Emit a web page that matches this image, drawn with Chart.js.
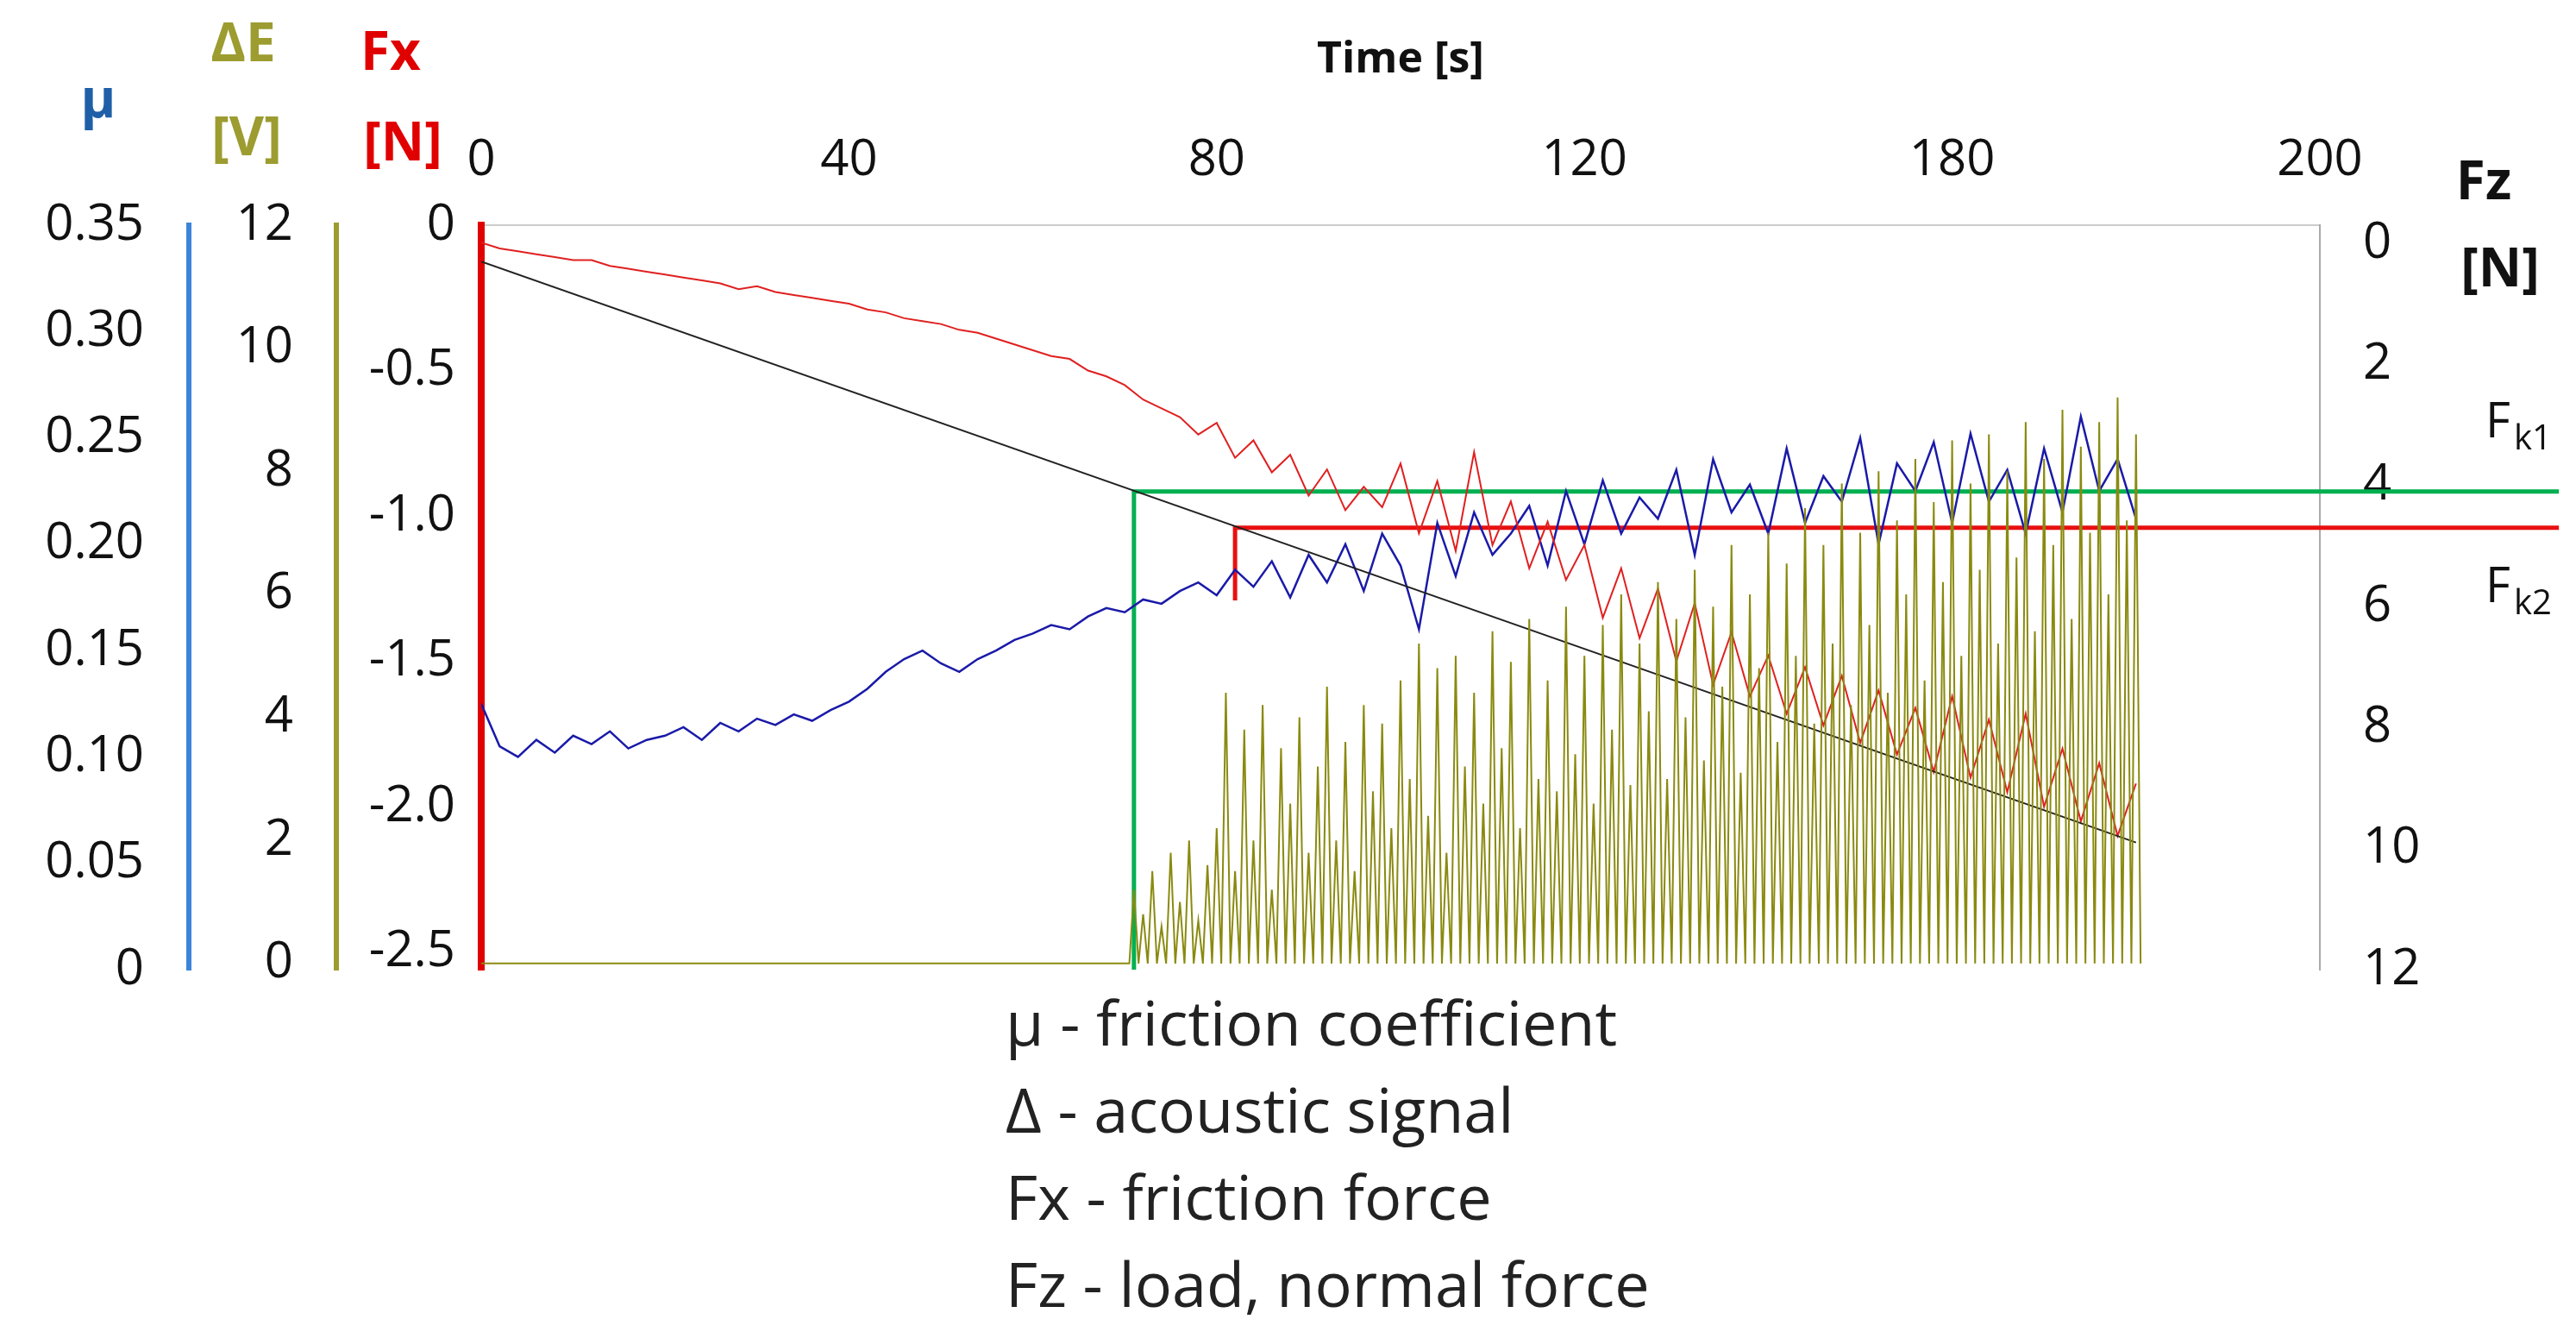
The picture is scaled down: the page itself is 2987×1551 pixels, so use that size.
<!DOCTYPE html>
<html>
<head>
<meta charset="utf-8">
<script src="https://cdn.jsdelivr.net/npm/chart.js@4/dist/chart.umd.min.js"></script>
<style>
  html, body { margin: 0; padding: 0; background: #fff; }
  canvas { display: block; }
</style>
</head>
<body>
<canvas id="graf" width="2987" height="1551"></canvas>
<script>
// time axis (top), labels as printed in the figure
const timeTicks = [0, 40, 80, 120, 160, 200];
const timeTickLabels = ["0", "40", "80", "120", "180", "200"];
const muTicks = [0, 0.05, 0.10, 0.15, 0.20, 0.25, 0.30, 0.35];
const aeTicks = [0, 2, 4, 6, 8, 10, 12];
const fxTicks = [0, -0.5, -1.0, -1.5, -2.0, -2.5];
const fzTicks = [0, 2, 4, 6, 8, 10, 12];

// sampled every 2 s, t = 0 .. 180
const sampleTimes = [];
for (let t = 0; t <= 180; t += 2) sampleTimes.push(t);

const fxValues = [
  -0.06,-0.08,-0.09,-0.10,-0.11,-0.12,-0.12,-0.14,-0.15,-0.16,
  -0.17,-0.18,-0.19,-0.20,-0.22,-0.21,-0.23,-0.24,-0.25,-0.26,
  -0.27,-0.29,-0.30,-0.32,-0.33,-0.34,-0.36,-0.37,-0.39,-0.41,
  -0.43,-0.45,-0.46,-0.50,-0.52,-0.55,-0.60,-0.63,-0.66,-0.72,
  -0.68,-0.80,-0.74,-0.85,-0.79,-0.93,-0.84,-0.98,-0.90,-0.97,
  -0.82,-1.06,-0.88,-1.12,-0.78,-1.10,-0.95,-1.18,-1.02,-1.22,
  -1.10,-1.35,-1.18,-1.42,-1.25,-1.50,-1.30,-1.58,-1.40,-1.62,
  -1.48,-1.68,-1.52,-1.72,-1.55,-1.78,-1.60,-1.82,-1.66,-1.88,
  -1.62,-1.90,-1.70,-1.95,-1.68,-2.00,-1.80,-2.05,-1.85,-2.10,
  -1.92
];

const muValues = [
  0.125,0.105,0.100,0.108,0.102,0.110,0.106,0.112,0.104,0.108,
  0.110,0.114,0.108,0.116,0.112,0.118,0.115,0.120,0.117,0.122,
  0.126,0.132,0.140,0.146,0.150,0.144,0.140,0.146,0.150,0.155,
  0.158,0.162,0.160,0.166,0.170,0.168,0.174,0.172,0.178,0.182,
  0.176,0.188,0.180,0.192,0.175,0.195,0.182,0.200,0.178,0.205,
  0.190,0.160,0.210,0.185,0.215,0.195,0.205,0.218,0.190,0.225,
  0.200,0.230,0.205,0.222,0.212,0.235,0.195,0.240,0.215,0.228,
  0.205,0.245,0.210,0.232,0.220,0.250,0.200,0.238,0.225,0.248,
  0.210,0.252,0.220,0.235,0.205,0.245,0.215,0.260,0.225,0.240,
  0.212
];

// acoustic burst peaks [V], one per second from t = 71 s to 180 s
const aeStart = 71;
const aePeaks = [
  1.2,0.8,1.5,0.6,1.8,1.0,2.0,0.7,1.6,2.2,
  4.4,1.5,3.8,2.0,4.2,1.2,3.5,2.6,4.0,1.8,
  3.2,4.5,2.0,3.6,1.5,4.2,2.8,3.9,2.2,4.6,
  3.0,5.2,2.4,4.8,1.8,5.0,3.2,4.4,2.6,5.4,
  3.5,4.9,2.2,5.6,3.0,4.6,2.8,5.8,3.4,5.0,
  2.6,5.5,3.8,6.0,2.9,5.2,4.1,6.2,3.0,5.6,
  4.0,6.4,3.3,5.8,4.5,6.8,3.1,6.0,4.8,7.0,
  3.6,6.5,5.0,7.4,3.9,6.8,5.2,7.8,4.2,7.0,
  5.5,8.0,4.4,7.2,6.0,8.2,4.6,7.5,6.2,8.5,
  5.0,7.8,6.4,8.6,5.2,8.0,6.6,8.8,5.4,8.2,
  6.8,9.0,5.6,8.4,7.0,8.8,6.0,9.2,7.2,8.6
];

// load ramp Fz [N]
const fzTimes = [0, 180];
const fzValues = [0.3, 9.9];

// critical load markers
const fk1Line = [[71, 12], [71, 4.1], [226, 4.1]];
const fk2Line = [[82, 5.9], [82, 4.7], [226, 4.7]];

const legendLines = ["μ - friction coefficient", "Δ - acoustic signal", "Fx - friction force", "Fz - load, normal force"];

const aeData = [{ x: 0, y: 0 }, { x: aeStart - 0.5, y: 0 }];
aePeaks.forEach(function(p, i) {
  aeData.push({ x: aeStart + i, y: p });
  aeData.push({ x: aeStart + i + 0.5, y: 0 });
});

const FONT = "'Open Sans', 'Liberation Sans', sans-serif";

function fixTicks(list) {
  return function(axis) { axis.ticks = list.map(function(v) { return { value: v }; }); };
}
function fixWidth(w) { return function(axis) { axis.width = w; }; }

const textPlugin = {
  id: "texty",
  afterDraw: function(chart) {
    const c = chart.ctx;
    c.save();
    c.textAlign = "center";
    c.textBaseline = "middle";
    function txt(s, x, y, color, size, bold) {
      c.fillStyle = color;
      c.font = (bold ? "bold " : "") + size + "px " + FONT;
      c.fillText(s, x, y);
    }
    txt("μ", 114, 118, "#1f5fa8", 62, true);
    txt("ΔE", 282, 53, "#9c9c30", 62, true);
    txt("[V]", 286, 162, "#9c9c30", 62, true);
    txt("Fx", 453, 63, "#e00000", 62, true);
    txt("[N]", 467, 168, "#e00000", 62, true);
    txt("Fz", 2880, 213, "#111", 62, true);
    txt("[N]", 2899, 314, "#111", 62, true);
    // F_k1 / F_k2
    c.textAlign = "left";
    txt("F", 2882, 491, "#111", 56, false);
    txt("k1", 2915, 510, "#111", 40, false);
    txt("F", 2882, 682, "#111", 56, false);
    txt("k2", 2915, 701, "#111", 40, false);
    legendLines.forEach(function(s, i) {
      txt(s, 1166, 1191 + i * 101, "#222", 72, false);
    });
    c.restore();
  }
};

new Chart(document.getElementById("graf"), {
  type: "line",
  data: {
    datasets: [
      { label: "ΔE", yAxisID: "ae", data: aeData, borderColor: "#8a8a10", borderWidth: 2 },
      { label: "Fz", yAxisID: "fz", data: fzTimes.map(function(t, i) { return { x: t, y: fzValues[i] }; }), borderColor: "#222", borderWidth: 2 },
      { label: "Fx", yAxisID: "fx", data: sampleTimes.map(function(t, i) { return { x: t, y: fxValues[i] }; }), borderColor: "#e02020", borderWidth: 2 },
      { label: "μ", yAxisID: "mu", data: sampleTimes.map(function(t, i) { return { x: t, y: muValues[i] }; }), borderColor: "#1a1aa8", borderWidth: 2.5 },
      { label: "Fk1", yAxisID: "fz", clip: false, data: fk1Line.map(function(p) { return { x: p[0], y: p[1] }; }), borderColor: "#00b050", borderWidth: 5 },
      { label: "Fk2", yAxisID: "fz", clip: false, data: fk2Line.map(function(p) { return { x: p[0], y: p[1] }; }), borderColor: "#e81010", borderWidth: 5 }
    ]
  },
  options: {
    responsive: false,
    devicePixelRatio: 1,
    animation: false,
    elements: { point: { radius: 0 }, line: { tension: 0 } },
    layout: { padding: { left: 19, right: 129, top: 0, bottom: 427 } },
    plugins: { legend: { display: false }, tooltip: { enabled: false } },
    scales: {
      x: {
        type: "linear", position: "top", min: 0, max: 200,
        afterBuildTicks: fixTicks(timeTicks),
        afterFit: function(axis) { axis.height = 261; },
        grid: { display: false, drawTicks: false },
        border: { display: true, color: "#cccccc", width: 2 },
        ticks: {
          color: "#111", padding: 40, maxRotation: 0,
          font: { family: FONT, size: 58 },
          callback: function(v) { const i = timeTicks.indexOf(v); return i >= 0 ? timeTickLabels[i] : ""; }
        },
        title: { display: true, text: "Time [s]", color: "#111", font: { family: FONT, size: 50, weight: "bold" }, padding: { top: 40, bottom: 0 } }
      },
      mu: {
        type: "linear", position: "left", weight: 3, min: 0, max: 0.35,
        afterBuildTicks: fixTicks(muTicks), afterFit: fixWidth(200),
        grid: { display: false, drawTicks: false },
        border: { display: true, color: "#3d85d8", width: 6 },
        ticks: { color: "#111", padding: 52, font: { family: FONT, size: 58 },
          callback: function(v) { return v === 0 ? "0" : v.toFixed(2); } }
      },
      ae: {
        type: "linear", position: "left", weight: 2, min: -0.1, max: 12,
        afterBuildTicks: fixTicks(aeTicks), afterFit: fixWidth(171),
        grid: { display: false, drawTicks: false },
        border: { display: true, color: "#9c9c30", width: 6 },
        ticks: { color: "#111", padding: 50, font: { family: FONT, size: 58 } }
      },
      fx: {
        type: "linear", position: "left", weight: 1, min: -2.56, max: 0,
        afterBuildTicks: fixTicks(fxTicks), afterFit: fixWidth(168),
        grid: { display: false, drawTicks: false },
        border: { display: true, color: "#e00000", width: 8 },
        ticks: { color: "#111", padding: 30, font: { family: FONT, size: 58 },
          callback: function(v) { return v === 0 ? "0" : v.toFixed(1); } }
      },
      fz: {
        type: "linear", position: "right", reverse: true, min: -0.3, max: 12,
        afterBuildTicks: fixTicks(fzTicks), afterFit: fixWidth(168),
        grid: { display: false, drawTicks: false },
        border: { display: true, color: "#aaaaaa", width: 2 },
        ticks: { color: "#111", padding: 50, font: { family: FONT, size: 58 } }
      }
    }
  },
  plugins: [textPlugin]
});
</script>
</body>
</html>
